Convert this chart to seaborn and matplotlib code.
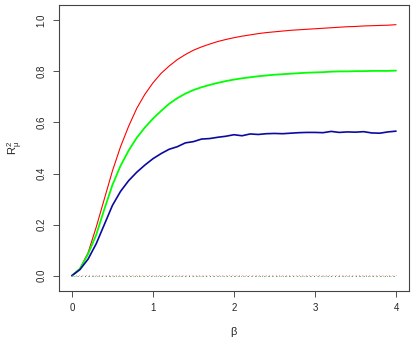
import numpy as np
import pandas as pd
import matplotlib
matplotlib.use("Agg")
import matplotlib.pyplot as plt
import seaborn as sns

# beta grid (step 0.1)
beta = [round(0.1 * i, 1) for i in range(41)]

r2_red = [0.0, 0.028, 0.09, 0.19, 0.30, 0.41, 0.505, 0.585, 0.655, 0.71,
          0.755, 0.792, 0.821, 0.846, 0.866, 0.883, 0.896, 0.907, 0.917, 0.925,
          0.932, 0.938, 0.943, 0.948, 0.952, 0.955, 0.958, 0.961, 0.963, 0.965,
          0.967, 0.969, 0.971, 0.973, 0.975, 0.976, 0.978, 0.979, 0.980, 0.981,
          0.983]
r2_green = [0.0, 0.027, 0.085, 0.16, 0.26, 0.355, 0.43, 0.49, 0.54, 0.58,
            0.615, 0.645, 0.673, 0.695, 0.713, 0.727, 0.738, 0.747, 0.755, 0.762,
            0.768, 0.773, 0.777, 0.781, 0.784, 0.787, 0.789, 0.791, 0.793, 0.795,
            0.796, 0.797, 0.799, 0.800, 0.800, 0.801, 0.801, 0.802, 0.802, 0.802,
            0.803]
r2_blue = [0.0, 0.024, 0.065, 0.125, 0.2, 0.275, 0.33, 0.372, 0.405, 0.433,
           0.458, 0.478, 0.495, 0.505, 0.52, 0.525, 0.535, 0.537, 0.542, 0.546,
           0.552, 0.548, 0.555, 0.553, 0.556, 0.557, 0.556, 0.558, 0.560, 0.561,
           0.561, 0.560, 0.565, 0.561, 0.563, 0.562, 0.564, 0.559, 0.558, 0.563,
           0.566]
# null-model baselines (near zero)
r2_red_null = [0.003] * 41
r2_green_null = [0.0] * 41
r2_black_null = [0.0] * 41

sns.set_style("white")
plt.rcParams["font.family"] = ["Liberation Sans", "DejaVu Sans"]
plt.rcParams["mathtext.fontset"] = "custom"
plt.rcParams["mathtext.rm"] = "Liberation Sans"
plt.rcParams["mathtext.it"] = "Liberation Sans"

df = pd.DataFrame({
    "beta": beta,
    "red": r2_red,
    "green": r2_green,
    "blue": r2_blue,
    "red_null": r2_red_null,
    "green_null": r2_green_null,
    "black_null": r2_black_null,
})

fig = plt.figure(figsize=(4.15, 3.46), dpi=100)
ax = fig.add_axes([0.142, 0.159, 0.8435, 0.8265])

sns.lineplot(data=df, x="beta", y="red", color="#FF0000", lw=0.8, ax=ax)
sns.lineplot(data=df, x="beta", y="green", color="#00FF00", lw=1.3, ax=ax)
sns.lineplot(data=df, x="beta", y="blue", color="#0A0AA0", lw=1.2, ax=ax)
sns.lineplot(data=df, x="beta", y="red_null", color="#FF8080", lw=0.6,
             linestyle=(0, (1, 3)), ax=ax)
sns.lineplot(data=df, x="beta", y="green_null", color="#20B020", lw=0.6,
             linestyle=(0, (1, 4)), ax=ax)
sns.lineplot(data=df, x="beta", y="black_null", color="#404040", lw=0.5,
             linestyle=(2, (1, 4)), ax=ax)

ax.set_xlim(-0.16, 4.16)
ax.set_ylim(-0.06, 1.06)
ax.set_xticks([0, 1, 2, 3, 4])
ax.set_yticks([0.0, 0.2, 0.4, 0.6, 0.8, 1.0])
ax.set_yticklabels(["0.0", "0.2", "0.4", "0.6", "0.8", "1.0"], rotation=90, va="center")
ax.tick_params(axis="both", direction="out", length=4, width=0.6, labelsize=7,
               color="#333333", left=True, bottom=True, pad=5)
for s in ax.spines.values():
    s.set_color("#444444")
    s.set_linewidth(0.8)

ax.set_xlabel(r"$\beta$", fontsize=8, labelpad=8)
ax.set_ylabel(r"$R^2_\mu$", fontsize=8, labelpad=8)

fig.savefig("out.png", dpi=100)
